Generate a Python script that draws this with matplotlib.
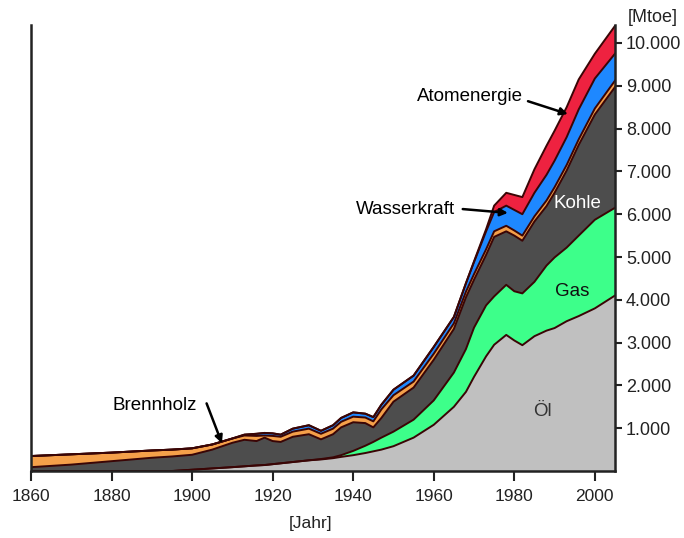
import matplotlib.pyplot as plt
import numpy as np

plt.rcParams['font.family'] = ['Liberation Sans', 'DejaVu Sans']

# Weltenergieverbrauch nach Energieträger, Mtoe
years = [1860, 1870, 1880, 1890, 1895, 1900, 1905, 1910, 1913, 1916, 1918, 1920,
         1922, 1925, 1929, 1932, 1935, 1937, 1940, 1943, 1945, 1947, 1950, 1955,
         1960, 1965, 1968, 1970, 1973, 1975, 1978, 1980, 1982, 1985, 1988, 1990,
         1993, 1996, 2000, 2005]
oel = [0, 0, 0, 0, 0, 30, 60, 90, 110, 130, 140, 160,
       180, 210, 250, 270, 300, 330, 370, 420, 460, 500, 580, 780,
       1080, 1500, 1850, 2200, 2680, 2950, 3180, 3050, 2940, 3150, 3280, 3340,
       3500, 3620, 3800, 4100]
gas = [0, 0, 0, 0, 0, 0, 0, 0, 0, 0, 0, 0,
       0, 0, 0, 10, 20, 40, 100, 170, 220, 280, 340, 420,
       570, 800, 1000, 1150, 1190, 1130, 1170, 1150, 1210, 1270, 1520, 1650,
       1720, 1880, 2070, 2050]
kohle = [90, 150, 230, 310, 340, 350, 440, 570, 620, 570, 640, 540,
         500, 590, 610, 460, 540, 650, 670, 530, 340, 460, 700, 750,
         950, 1020, 1210, 1120, 1180, 1390, 1250, 1300, 1230, 1410, 1390, 1510,
         1800, 2120, 2460, 2820]
brennholz = [260, 240, 200, 170, 160, 150, 120, 100, 100, 120, 50, 120,
             120, 120, 130, 130, 130, 130, 130, 130, 140, 200, 150, 140,
             140, 130, 130, 130, 130, 130, 130, 120, 120, 120, 130, 130,
             130, 130, 140, 150]
wasserkraft = [0, 0, 0, 0, 0, 0, 0, 0, 20, 50, 60, 60,
               50, 70, 80, 70, 80, 90, 100, 90, 100, 110, 130, 140,
               160, 150, 200, 280, 420, 450, 470, 480, 500, 550, 600, 620,
               650, 700, 700, 630]
atomenergie = [0, 0, 0, 0, 0, 0, 0, 0, 0, 0, 0, 0,
               0, 0, 0, 0, 0, 0, 0, 0, 0, 0, 0, 0,
               0, 0, 0, 20, 50, 150, 300, 350, 400, 550, 680, 700,
               700, 700, 580, 650]

layers = [oel, gas, kohle, brennholz, wasserkraft, atomenergie]
colors = ["#c0c0c0", "#3dff8a", "#4d4d4d", "#f5a04a", "#1e88ff", "#ee2240"]

x_ticks = [1860, 1880, 1900, 1920, 1940, 1960, 1980, 2000]
y_ticks = [1000, 2000, 3000, 4000, 5000, 6000, 7000, 8000, 9000, 10000]
y_tick_labels = ["1.000", "2.000", "3.000", "4.000", "5.000",
                 "6.000", "7.000", "8.000", "9.000", "10.000"]

fig = plt.figure(figsize=(6.84, 5.38), dpi=100)
ax = fig.add_axes([0.0453, 0.1245, 0.8538, 0.829])

ax.stackplot(years, layers, colors=colors, linewidth=0)
tops = np.cumsum(np.array(layers), axis=0)
for t in tops:
    ax.plot(years, t, color="#3a0505", linewidth=1.4, solid_joinstyle="round")

ax.set_xlim(1860, 2005)
ax.set_ylim(0, 10420)

ax.spines["top"].set_visible(False)
for s in ["left", "right", "bottom"]:
    ax.spines[s].set_linewidth(1.8)
    ax.spines[s].set_color("#222222")

ax.set_xticks(x_ticks)
ax.set_yticks(y_ticks)
ax.set_yticklabels(y_tick_labels)
ax.yaxis.tick_right()
ax.tick_params(axis="y", direction="out", length=5, width=1.5, pad=3,
               labelsize=13, colors="#222222")
ax.tick_params(axis="x", direction="out", length=7, width=1.5, pad=6,
               labelsize=12.5, colors="#222222")

ax.text(0.479, -0.117, "[Jahr]", transform=ax.transAxes, ha="center",
        va="center", fontsize=12.5, color="#222222")
fig.text(0.955, 0.968, "[Mtoe]", ha="center", va="center", fontsize=13,
         color="#222222")

# Beschriftungen mit Pfeilen
arrow = dict(arrowstyle="-|>", color="black", lw=1.8, mutation_scale=11,
             shrinkA=0, shrinkB=0)
ax.text(1969.0, 8740, "Atomenergie", ha="center", va="center", fontsize=13.5)
ax.annotate("", xy=(1993.3, 8340), xytext=(1983.4, 8640), arrowprops=arrow)
ax.text(1952.9, 6100, "Wasserkraft", ha="center", va="center", fontsize=13.5)
ax.annotate("", xy=(1978.4, 6030), xytext=(1967.2, 6120), arrowprops=arrow)
ax.text(1890.8, 1540, "Brennholz", ha="center", va="center", fontsize=13.5)
ax.annotate("", xy=(1907.4, 650), xytext=(1903.6, 1580), arrowprops=arrow)
ax.text(1995.6, 6240, "Kohle", ha="center", va="center", fontsize=13.5,
        color="white")
ax.text(1994.3, 4200, "Gas", ha="center", va="center", fontsize=13.5,
        color="#111111")
ax.text(1986.9, 1380, "Öl", ha="center", va="center", fontsize=13.5,
        color="#333333")

fig.savefig("out.png", dpi=100)
